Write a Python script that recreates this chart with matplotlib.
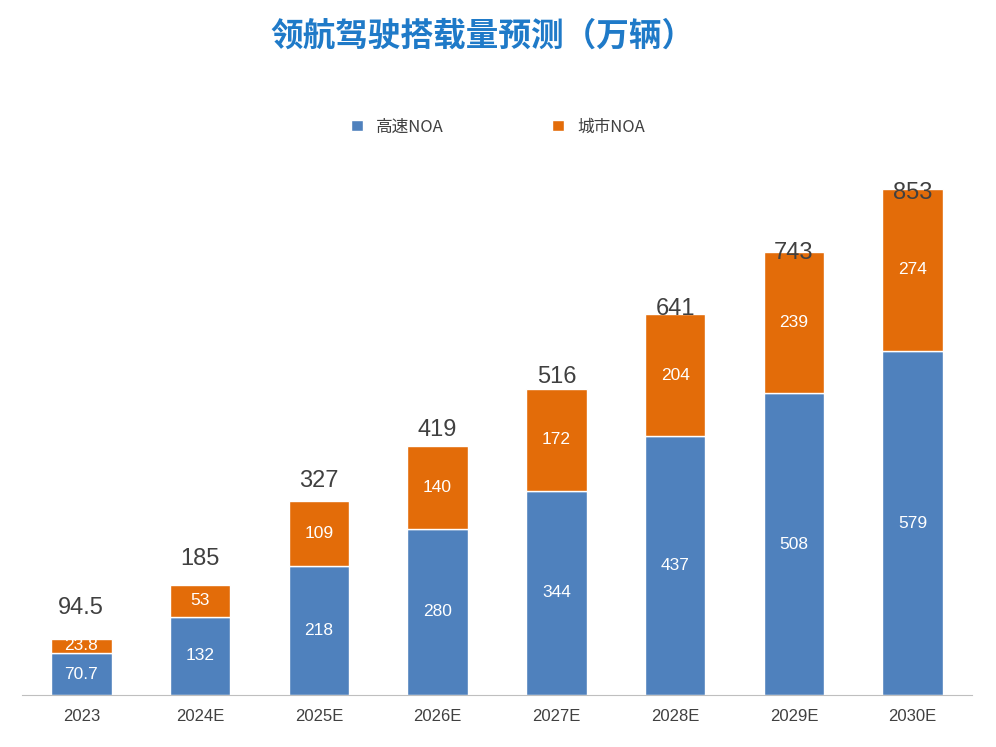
import glob
import matplotlib
matplotlib.use("Agg")
import matplotlib.pyplot as plt
from matplotlib.font_manager import FontProperties, fontManager

files = [f.fname for f in fontManager.ttflist if "CJK" in f.name or "CJK" in f.fname]
files += glob.glob("/usr/share/fonts/**/*CJK*", recursive=True)
files = sorted(set(files))

def pick(weight):
    for key in ([weight, "SC"], [weight]):
        for f in files:
            if all(k.lower() in f.lower() for k in key):
                return f
    return files[0] if files else None

reg_file = pick("Regular")
bold_file = pick("Bold")

def cjk(size, bold=False):
    f = bold_file if bold else reg_file
    if f:
        return FontProperties(fname=f, size=size)
    return FontProperties(family="Noto Sans CJK SC", size=size, weight="bold" if bold else "normal")

categories = ["2023", "2024E", "2025E", "2026E", "2027E", "2028E", "2029E", "2030E"]
highway = [70.7, 132, 218, 280, 344, 437, 508, 579]
city = [23.8, 53, 109, 140, 172, 204, 239, 274]
totals = [94.5, 185, 327, 419, 516, 641, 743, 853]

fig = plt.figure(figsize=(9.96, 7.47), dpi=100)
ax = fig.add_axes([0.022, 0.0696, 0.954, 0.755])
x = range(len(categories))
w = 0.51
ax.bar(x, highway, w, color="#4F81BD", edgecolor="white", linewidth=1, label="高速NOA")
ax.bar(x, city, w, bottom=highway, color="#E36C09", edgecolor="white", linewidth=1, label="城市NOA")
for i in x:
    ax.text(i, highway[i] / 2, f"{highway[i]:g}", ha="center", va="center", color="white", fontsize=12.5, fontfamily="Liberation Sans")
    ax.text(i, highway[i] + city[i] / 2, f"{city[i]:g}", ha="center", va="center", color="white", fontsize=12.5, fontfamily="Liberation Sans")
    ax.text(i, 0.9226 * totals[i] + 59, f"{totals[i]:g}", ha="center", va="center", color="#404040", fontsize=17, fontfamily="Liberation Sans")
ax.set_xlim(-0.5, len(categories) - 0.5)
ax.set_ylim(0, 950)
ax.set_yticks([])
for s in ["left", "right", "top"]:
    ax.spines[s].set_visible(False)
ax.spines["bottom"].set_color("#BFBFBF")
ax.set_xticks(list(x))
ax.set_xticklabels(categories, fontsize=12, color="#404040", fontfamily="Liberation Sans")
ax.tick_params(axis="x", length=0, pad=10)
fig.legend(loc="center", bbox_to_anchor=(0.5, 0.83), ncol=2, frameon=False,
           prop=cjk(12),
           handlelength=0.7, handleheight=0.7, columnspacing=6.5, labelcolor="#404040")
fig.text(0.484, 0.952, "领航驾驶搭载量预测（万辆）", ha="center", va="center",
         fontproperties=cjk(23.5, True), color="#1F7AC8")
fig.savefig("out.png", dpi=100)
